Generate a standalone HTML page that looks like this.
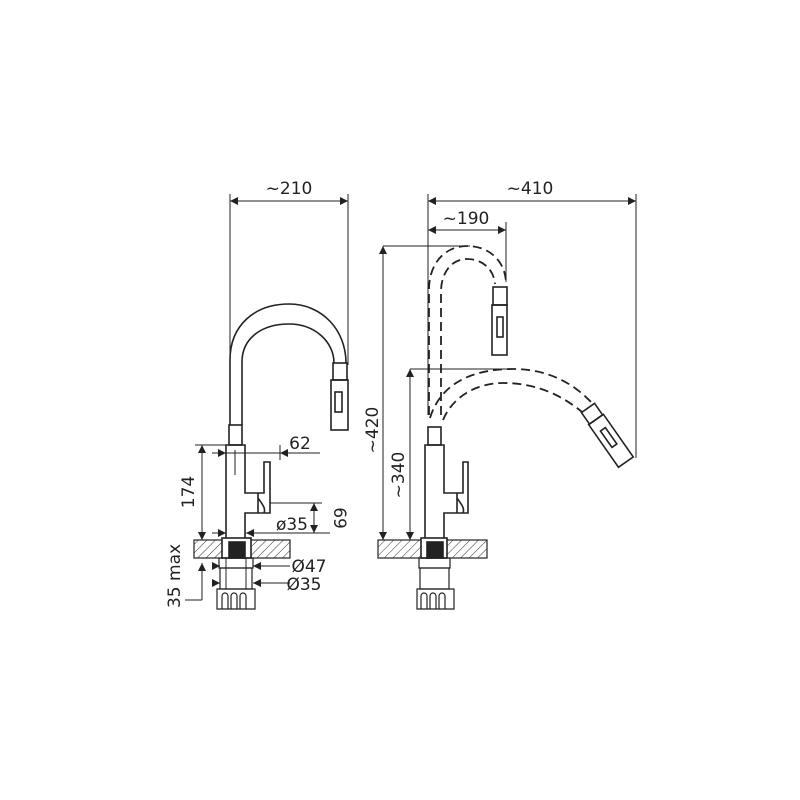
<!DOCTYPE html>
<html><head><meta charset="utf-8"><style>
html,body{margin:0;padding:0;background:#fff;width:800px;height:800px;overflow:hidden}
text{font-family:"DejaVu Sans","Liberation Sans",sans-serif;fill:#222}
</style></head><body>
<svg width="800" height="800" viewBox="0 0 800 800" xmlns="http://www.w3.org/2000/svg">
<defs>
<marker id="a" viewBox="0 0 10 10" refX="10" refY="5" markerWidth="12" markerHeight="8" orient="auto-start-reverse" markerUnits="userSpaceOnUse"><path d="M0,0L10,5L0,10z" fill="#222"/></marker>
<pattern id="h" width="6" height="6" patternUnits="userSpaceOnUse" patternTransform="rotate(45)"><line x1="0" y1="0" x2="0" y2="6" stroke="#333" stroke-width="1"/></pattern>
</defs>
<g fill="none" stroke="#222" stroke-width="1">
<line x1="230" y1="194" x2="230" y2="425"/>
<line x1="348" y1="194" x2="348" y2="365"/>
<line x1="230" y1="201" x2="348" y2="201" marker-start="url(#a)" marker-end="url(#a)"/>
<line x1="195" y1="445" x2="226" y2="445"/>
<line x1="202" y1="445" x2="202" y2="540" marker-start="url(#a)" marker-end="url(#a)"/>
<line x1="212" y1="453" x2="226" y2="453" marker-end="url(#a)"/>
<line x1="226" y1="453" x2="320" y2="453"/>
<line x1="298" y1="453" x2="280" y2="453" marker-end="url(#a)"/>
<line x1="280" y1="445" x2="280" y2="460"/>
<line x1="270" y1="503" x2="322" y2="503"/>
<line x1="314" y1="503" x2="314" y2="533" marker-start="url(#a)" marker-end="url(#a)"/>
<line x1="212" y1="533" x2="226" y2="533" marker-end="url(#a)"/>
<line x1="330" y1="533" x2="246" y2="533" marker-end="url(#a)"/>
<line x1="202" y1="600" x2="202" y2="563" marker-end="url(#a)"/>
<line x1="185" y1="600" x2="202" y2="600"/>
<line x1="212" y1="566" x2="220" y2="566" marker-end="url(#a)"/>
<line x1="290" y1="566" x2="253" y2="566" marker-end="url(#a)"/>
<line x1="212" y1="583" x2="220" y2="583" marker-end="url(#a)"/>
<line x1="290" y1="583" x2="253" y2="583" marker-end="url(#a)"/>
</g>
<g fill="none" stroke="#222" stroke-width="1.6">
<path d="M230,425 L230,360 C230,325 255,304 289,304 C322,304 346,330 346,363"/>
<path d="M242,425 L242,362 C242,338 262,324 289,324 C315,324 334,342 334,363"/>
<rect x="333" y="363" width="14" height="17"/>
<rect x="331" y="380" width="17" height="50"/>
<rect x="335" y="392" width="7" height="20"/>
<rect x="229" y="425" width="13" height="20"/>
<path d="M226,540 L226,445 L245,445 L245,493 L264,493 L264,462 L270,462 L270,513 L258,513 L245,513 L245,540"/>
<path d="M258,493 L258,513 M258,498 C262,504 266,508 264,513"/>
<rect x="194" y="540" width="96" height="18" fill="url(#h)" stroke-width="1.2"/>
<rect x="222" y="538" width="29" height="20" fill="#fff"/>
<rect x="229" y="542" width="16" height="16" fill="#222"/>
<rect x="219" y="558" width="34" height="10" stroke-width="1.2"/>
<rect x="220" y="568" width="32" height="21" stroke-width="1.2"/>
<line x1="226" y1="558" x2="226" y2="589" stroke-width="1"/>
<line x1="246" y1="558" x2="246" y2="589" stroke-width="1"/>
<path d="M217,589 L255,589 L255,609 L217,609 Z" stroke-width="1.2"/>
<path d="M222,609 V596 a3,3 0 0 1 6,0 V609 M231,609 V596 a3,3 0 0 1 6,0 V609 M240,609 V596 a3,3 0 0 1 6,0 V609" stroke-width="1.2"/>
<line x1="235" y1="450" x2="235" y2="475" stroke-width="1"/>
</g>
<g fill="none" stroke="#222" stroke-width="1">
<line x1="428" y1="194" x2="428" y2="415"/>
<line x1="636" y1="194" x2="636" y2="458"/>
<line x1="428" y1="201" x2="636" y2="201" marker-start="url(#a)" marker-end="url(#a)"/>
<line x1="506" y1="222" x2="506" y2="282"/>
<line x1="428" y1="230" x2="506" y2="230" marker-start="url(#a)" marker-end="url(#a)"/>
<line x1="383" y1="246" x2="470" y2="246"/>
<line x1="383" y1="246" x2="383" y2="540" marker-start="url(#a)" marker-end="url(#a)"/>
<line x1="410" y1="369" x2="515" y2="369"/>
<line x1="410" y1="369" x2="410" y2="540" marker-start="url(#a)" marker-end="url(#a)"/>
</g>
<g fill="none" stroke="#222" stroke-width="1.6">
<g stroke-dasharray="9,5" stroke-width="1.8">
<path d="M429,415 L429,290 C429,262 446,246 467,246 C490,246 506,262 506,284"/>
<path d="M441,415 L441,292 C441,272 452,259 467,259 C483,259 494,270 495,284"/>
<path d="M430,418 C440,385 470,369 513,369 C550,369 575,385 592,403"/>
<path d="M443,420 C452,398 475,383 503,383 C540,383 565,398 582,412"/>
</g>
<rect x="493" y="287" width="14" height="18"/>
<rect x="492" y="305" width="15" height="50"/>
<rect x="497" y="317" width="6" height="20"/>
<g transform="translate(588,408) rotate(-35)">
<rect x="-8" y="0" width="16" height="14"/>
<rect x="-9" y="14" width="18" height="52"/>
<rect x="-3" y="26" width="6" height="20"/>
</g>
<rect x="428" y="427" width="13" height="18"/>
<path d="M425,540 L425,445 L444,445 L444,493 L463,493 L463,462 L468,462 L468,513 L457,513 L444,513 L444,540"/>
<path d="M457,493 L457,513 M457,498 C461,504 465,508 463,513"/>
<rect x="378" y="540" width="109" height="18" fill="url(#h)" stroke-width="1.2"/>
<rect x="421" y="538" width="26" height="20" fill="#fff"/>
<rect x="427" y="542" width="16" height="16" fill="#222"/>
<rect x="419" y="558" width="31" height="10" stroke-width="1.2"/>
<rect x="420" y="568" width="29" height="21" stroke-width="1.2"/>
<path d="M417,589 L454,589 L454,609 L417,609 Z" stroke-width="1.2"/>
<path d="M421,609 V596 a3,3 0 0 1 6,0 V609 M430,609 V596 a3,3 0 0 1 6,0 V609 M439,609 V596 a3,3 0 0 1 6,0 V609" stroke-width="1.2"/>
</g>
<g font-size="17">
<text x="289" y="194" text-anchor="middle">~210</text>
<text x="300" y="449" text-anchor="middle">62</text>
<text x="292" y="530" text-anchor="middle">ø35</text>
<text x="309" y="572" text-anchor="middle">Ø47</text>
<text x="304" y="590" text-anchor="middle">Ø35</text>
<text transform="translate(334,518) rotate(90)" text-anchor="middle">69</text>
<text transform="translate(194,492) rotate(-90)" text-anchor="middle">174</text>
<text transform="translate(180,576) rotate(-90)" text-anchor="middle">35 max</text>
<text x="530" y="194" text-anchor="middle">~410</text>
<text x="466" y="224" text-anchor="middle">~190</text>
<text transform="translate(378,430) rotate(-90)" text-anchor="middle">~420</text>
<text transform="translate(404,475) rotate(-90)" text-anchor="middle">~340</text>
</g>
</svg>
</body></html>
